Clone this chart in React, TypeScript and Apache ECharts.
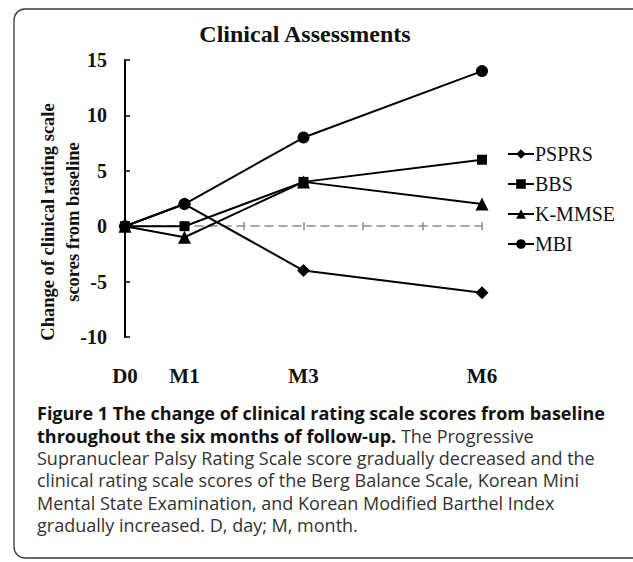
import React, { useEffect, useRef } from 'react';
import * as echarts from 'echarts';

const months = [0, 1, 3, 6];
const monthLabels = ['D0', 'M1', 'M3', 'M6'];
const seriesNames = ['PSPRS', 'BBS', 'K-MMSE', 'MBI'];
const psprs = [0, 2, -4, -6];
const bbs = [0, 0, 4, 6];
const kmmse = [0, -1, 4, 2];
const mbi = [0, 2, 8, 14];
const yMin = -10;
const yMax = 15;
const yStep = 5;

const titleText = 'Clinical Assessments';
const yTitleLines = ['Change of clinical rating scale', 'scores from baseline'];
const captionLine1 = 'Figure 1 The change of clinical rating scale scores from baseline';
const captionLine2Bold = 'throughout the six months of follow-up.';
const captionLine2Rest = ' The Progressive';
const captionRest = [
  'Supranuclear Palsy Rating Scale score gradually decreased and the',
  'clinical rating scale scores of the Berg Balance Scale, Korean Mini',
  'Mental State Examination, and Korean Modified Barthel Index',
  'gradually increased. D, day; M, month.',
];

const SERIF = '"Liberation Serif", "Times New Roman", serif';
const SANS = '"Open Sans", "Noto Sans", sans-serif';

export default function App() {
  const ref = useRef<HTMLDivElement>(null);
  useEffect(() => {
    if (!ref.current) return;
    const chart = echarts.init(ref.current, null, { renderer: 'svg' });
    const allValues = [psprs, bbs, kmmse, mbi];
    const symbols = ['diamond', 'rect', 'triangle', 'circle'];
    const sizes = [13, 10, 13, 12];
    const series: any[] = allValues.map((vals, si) => ({
      name: seriesNames[si],
      type: 'line',
      xAxisIndex: 0,
      yAxisIndex: 0,
      data: months.map((m, i) => [m, vals[i]]),
      symbol: symbols[si],
      symbolSize: sizes[si],
      showAllSymbol: true,
      lineStyle: { color: '#000', width: 2 },
      itemStyle: { color: '#000' },
      z: 5,
    }));
    const xMin = months[0];
    const xMax = months[months.length - 1];
    const baseX = {
      type: 'value',
      min: xMin,
      max: xMax,
      interval: 1,
      splitLine: { show: false },
    };
    const capSize = 18;
    const captionTexts: any[] = [
      {
        type: 'text',
        left: 37,
        top: 404,
        style: {
          text: captionLine1,
          font: `bold ${capSize}px ${SANS}`,
          fill: '#111',
        },
      },
      {
        type: 'text',
        left: 37,
        top: 426.5,
        style: {
          text: `{b|${captionLine2Bold}}{r|${captionLine2Rest}}`,
          rich: {
            b: { font: `bold ${capSize}px ${SANS}`, fill: '#111' },
            r: { font: `${capSize}px ${SANS}`, fill: '#333' },
          },
        },
      },
      ...captionRest.map((t, i) => ({
        type: 'text',
        left: 37,
        top: 449 + i * 22.3,
        style: { text: t, font: `${capSize}px ${SANS}`, fill: '#333' },
      })),
    ];
    chart.setOption({
      animation: false,
      grid: { left: 125, right: 151, top: 60, bottom: 225, containLabel: false },
      legend: {
        orient: 'vertical',
        left: 502,
        top: 139,
        itemWidth: 26,
        itemHeight: 12,
        itemGap: 10,
        data: seriesNames,
        textStyle: { fontFamily: SERIF, fontSize: 20, lineHeight: 20, color: '#111', padding: [0, 0, 0, -4] },
      },
      xAxis: [
        {
          ...baseX,
          position: 'bottom',
          axisLine: { show: false, onZero: false },
          axisTick: { show: false },
          axisLabel: {
            margin: 28,
            fontFamily: SERIF,
            fontWeight: 'bold',
            fontSize: 21,
            color: '#111',
            formatter: (v: number) => {
              const idx = months.indexOf(v);
              return idx >= 0 ? monthLabels[idx] : '';
            },
          },
        },
        {
          ...baseX,
          position: 'bottom',
          axisLine: { show: true, onZero: true, onZeroAxisIndex: 0, lineStyle: { color: '#8a8a8a', width: 1.5, type: [8, 6] } },
          axisTick: { show: true, inside: false, length: 4, lineStyle: { color: '#8a8a8a', width: 1.5 } },
          axisLabel: { show: false },
        },
        {
          ...baseX,
          position: 'bottom',
          axisLine: { show: false, onZero: true, onZeroAxisIndex: 0 },
          axisTick: { show: true, inside: true, length: 4, lineStyle: { color: '#8a8a8a', width: 1.5 } },
          axisLabel: { show: false },
        },
      ],
      yAxis: {
        type: 'value',
        min: yMin,
        max: yMax,
        interval: yStep,
        axisLine: { show: true, onZero: false, lineStyle: { color: '#000', width: 2 } },
        axisTick: { show: true, inside: true, length: 5, lineStyle: { color: '#000', width: 1.5 } },
        splitLine: { show: false },
        axisLabel: {
          margin: 18,
          fontFamily: SERIF,
          fontWeight: 'bold',
          fontSize: 20,
          color: '#111',
        },
      },
      graphic: [
        {
          type: 'rect',
          shape: { x: 14, y: 9, width: 700, height: 549, r: 11 },
          style: { fill: 'none', stroke: '#3a3a3a', lineWidth: 1.3 },
          silent: true,
        },
        {
          type: 'text',
          x: 305,
          y: 34,
          style: {
            text: titleText,
            font: `bold 24px ${SERIF}`,
            fill: '#111',
            align: 'center',
            verticalAlign: 'middle',
          },
        },
        {
          type: 'text',
          x: 60,
          y: 222,
          rotation: Math.PI / 2,
          style: {
            text: yTitleLines.join('\n'),
            font: `bold 18.5px ${SERIF}`,
            lineHeight: 25,
            fill: '#111',
            align: 'center',
            verticalAlign: 'middle',
          },
        },
        ...captionTexts,
      ],
      series,
    });
    return () => chart.dispose();
  }, []);
  return (
    <div
      ref={ref}
      style={{ position: 'fixed', left: 0, top: 0, width: 633, height: 562, background: '#fff' }}
    />
  );
}
